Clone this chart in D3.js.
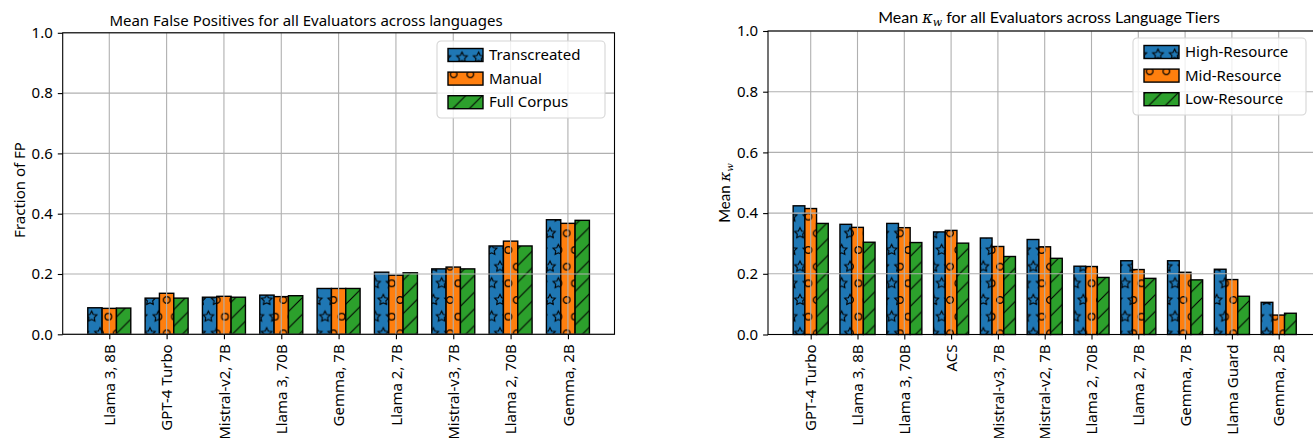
<!DOCTYPE html>
<html>
<head>
<meta charset="utf-8">
<script src="https://cdn.jsdelivr.net/npm/d3@7"></script>
<style>
  body { margin: 0; background: #fff; }
  svg { display: block; font-family: "Noto Sans", "Open Sans", sans-serif; }
  .tick text { font-family: "Noto Sans", sans-serif; font-size: 15px; fill: #000; }
</style>
</head>
<body>
<svg id="chart" width="1313" height="438"></svg>
<script>
// left panel: mean false positives
const fpModels = ["Llama 3, 8B", "GPT-4 Turbo", "Mistral-v2, 7B", "Llama 3, 70B", "Gemma, 7B",
  "Llama 2, 7B", "Mistral-v3, 7B", "Llama 2, 70B", "Gemma, 2B"];
const fpTranscreated = [0.088, 0.120, 0.123, 0.130, 0.152, 0.206, 0.217, 0.293, 0.380];
const fpManual       = [0.086, 0.136, 0.126, 0.125, 0.152, 0.196, 0.223, 0.309, 0.368];
const fpFullCorpus   = [0.087, 0.120, 0.123, 0.128, 0.152, 0.204, 0.217, 0.293, 0.378];
const fpSeries = ["Transcreated", "Manual", "Full Corpus"];

// right panel: mean kappa_w per language tier
const kwModels = ["GPT-4 Turbo", "Llama 3, 8B", "Llama 3, 70B", "ACS", "Mistral-v3, 7B",
  "Mistral-v2, 7B", "Llama 2, 70B", "Llama 2, 7B", "Gemma, 7B", "Llama Guard", "Gemma, 2B"];
const kwHigh = [0.424, 0.363, 0.366, 0.338, 0.318, 0.313, 0.225, 0.243, 0.243, 0.215, 0.106];
const kwMid  = [0.415, 0.353, 0.352, 0.343, 0.290, 0.289, 0.224, 0.214, 0.205, 0.181, 0.064];
const kwLow  = [0.366, 0.304, 0.303, 0.301, 0.257, 0.251, 0.188, 0.185, 0.180, 0.126, 0.070];
const kwSeries = ["High-Resource", "Mid-Resource", "Low-Resource"];

const yTicks = [0, 0.2, 0.4, 0.6, 0.8, 1.0];
const colors = ["#1f77b4", "#ff7f0e", "#2ca02c"];
const hatchIds = ["hStar", "hCircle", "hDiag"];

const svg = d3.select("#chart");
const defs = svg.append("defs");
const s = 100 / 6; // hatch spacing

function starPath(cx, cy, r) {
  const pts = [];
  for (let k = 0; k < 10; k++) {
    const a = -Math.PI / 2 + k * Math.PI / 5;
    const rr = k % 2 === 0 ? r : r * 0.5;
    pts.push([cx + rr * Math.cos(a), cy + rr * Math.sin(a)]);
  }
  return "M" + pts.map(p => p.join(",")).join("L") + "Z";
}
function circlePath(cx, cy, r) {
  return `M${cx - r},${cy}a${r},${r} 0 1,0 ${2 * r},0a${r},${r} 0 1,0 ${-2 * r},0Z`;
}
const shapeSpots = [[0, 0], [s, 0], [s / 2, s], [0, 2 * s], [s, 2 * s]];

const starPat = defs.append("pattern").attr("id", "hStar").attr("patternUnits", "userSpaceOnUse")
  .attr("width", s).attr("height", 2 * s);
starPat.append("rect").attr("width", s).attr("height", 2 * s).attr("fill", colors[0]);
starPat.append("path").attr("d", shapeSpots.map(p => starPath(p[0], p[1], s / 3)).join(""))
  .attr("fill", "none").attr("stroke", "#000").attr("stroke-width", 1.1);

const circPat = defs.append("pattern").attr("id", "hCircle").attr("patternUnits", "userSpaceOnUse")
  .attr("width", s).attr("height", 2 * s);
circPat.append("rect").attr("width", s).attr("height", 2 * s).attr("fill", colors[1]);
circPat.append("path").attr("d", shapeSpots.map(p => circlePath(p[0], p[1], s * 0.2)).join(""))
  .attr("fill", "none").attr("stroke", "#000").attr("stroke-width", 1.2);

const diagPat = defs.append("pattern").attr("id", "hDiag").attr("patternUnits", "userSpaceOnUse")
  .attr("width", s).attr("height", s);
diagPat.append("rect").attr("width", s).attr("height", s).attr("fill", colors[2]);
diagPat.append("path").attr("d", `M0,${s}L${s},0M-2,2L2,-2M${s - 2},${s + 2}L${s + 2},${s - 2}`)
  .attr("fill", "none").attr("stroke", "#000").attr("stroke-width", 1.1);

function drawPanel(cfg) {
  const n = cfg.categories.length;
  const lo = -0.375 - 0.05 * (n - 1 + 0.75);
  const hi = n - 1 + 0.375 + 0.05 * (n - 1 + 0.75);
  const x = d3.scaleLinear().domain([lo, hi]).range([cfg.left, cfg.right]);
  const y = d3.scaleLinear().domain([0, 1]).range([cfg.bottom, cfg.top]);
  const g = svg.append("g");

  const barW = x(0.25) - x(0);
  cfg.series.forEach((vals, k) => {
    g.append("g").selectAll("rect").data(vals).join("rect")
      .attr("x", (d, i) => x(i + (k - 1) * 0.25 - 0.125))
      .attr("y", d => y(d))
      .attr("width", barW)
      .attr("height", d => y(0) - y(d))
      .attr("fill", `url(#${hatchIds[k]})`)
      .attr("stroke", "#000")
      .attr("stroke-width", 1.4);
  });

  // grid on top of bars (matplotlib default)
  const grid = g.append("g").attr("stroke", "#b0b0b0").attr("stroke-width", 1.1);
  grid.selectAll(".gx").data(d3.range(n)).join("line")
    .attr("x1", d => x(d)).attr("x2", d => x(d)).attr("y1", cfg.top).attr("y2", cfg.bottom);
  grid.selectAll(".gy").data(yTicks).join("line")
    .attr("x1", cfg.left).attr("x2", cfg.right).attr("y1", d => y(d)).attr("y2", d => y(d));

  g.append("rect").attr("x", cfg.left).attr("y", cfg.top)
    .attr("width", cfg.right - cfg.left).attr("height", cfg.bottom - cfg.top)
    .attr("fill", "none").attr("stroke", "#000").attr("stroke-width", 1.1);

  const xAxis = g.append("g").attr("transform", `translate(0,${cfg.bottom})`)
    .call(d3.axisBottom(x).tickValues(d3.range(n)).tickFormat(i => cfg.categories[i])
      .tickSize(4.9).tickSizeOuter(0).tickPadding(5));
  xAxis.select(".domain").remove();
  xAxis.selectAll(".tick line").attr("stroke", "#000").attr("stroke-width", 1.1);
  xAxis.selectAll(".tick text")
    .attr("transform", "rotate(-90)")
    .attr("text-anchor", "end")
    .attr("x", -10).attr("y", 0).attr("dy", "0.35em");

  const yAxis = g.append("g").attr("transform", `translate(${cfg.left},0)`)
    .call(d3.axisLeft(y).tickValues(yTicks).tickFormat(d3.format(".1f"))
      .tickSize(4.9).tickSizeOuter(0).tickPadding(5));
  yAxis.select(".domain").remove();
  yAxis.selectAll(".tick line").attr("stroke", "#000").attr("stroke-width", 1.1);

  // title
  g.append("text").attr("x", cfg.titleX).attr("y", cfg.titleY)
    .attr("text-anchor", "middle").style("font-family", cfg.titleFont)
    .style("font-size", cfg.titleSize + "px").html(cfg.title);

  // y label
  g.append("text").attr("transform", `translate(${cfg.ylabelX},${cfg.ylabelY}) rotate(-90)`)
    .attr("text-anchor", "middle").style("font-family", cfg.ylabelFont)
    .style("font-size", "15px").html(cfg.ylabel);

  // legend
  const lg = g.append("g").attr("transform", `translate(${cfg.legX},${cfg.legY})`);
  lg.append("rect").attr("width", cfg.legW).attr("height", 77).attr("rx", 4)
    .attr("fill", "#fff").attr("fill-opacity", 0.8)
    .attr("stroke", "#d6d6d6").attr("stroke-width", 1.1);
  cfg.names.forEach((name, k) => {
    const cy = 14 + k * 23.6;
    lg.append("rect").attr("x", 11).attr("y", cy - 6.5).attr("width", 35).attr("height", 13)
      .attr("fill", `url(#${hatchIds[k]})`).attr("stroke", "#000").attr("stroke-width", 1.4);
    lg.append("text").attr("x", 52).attr("y", cy).attr("dy", "0.35em")
      .style("font-size", "15px").text(name);
  });
}

drawPanel({
  categories: fpModels,
  series: [fpTranscreated, fpManual, fpFullCorpus],
  names: fpSeries,
  left: 62.7, right: 614.5, top: 32.8, bottom: 334.3,
  title: "Mean False Positives for all Evaluators across languages",
  titleX: 306, titleY: 26, titleSize: 15, titleFont: "Noto Sans",
  ylabel: "Fraction of FP", ylabelX: 25, ylabelY: 190, ylabelFont: "Noto Sans",
  legX: 437, legY: 41, legW: 168
});

drawPanel({
  categories: kwModels,
  series: [kwHigh, kwMid, kwLow],
  names: kwSeries,
  left: 768, right: 1321.4, top: 31, bottom: 334.5,
  title: 'Mean <tspan font-style="italic" font-family="DejaVu Serif">κ</tspan><tspan font-style="italic" font-family="DejaVu Serif" font-size="11" dy="3">w</tspan><tspan dy="-3"> for all Evaluators across Language Tiers</tspan>',
  titleX: 1049, titleY: 23, titleSize: 16, titleFont: "Lato",
  ylabel: 'Mean <tspan font-style="italic" font-family="DejaVu Serif">κ</tspan><tspan font-style="italic" font-family="DejaVu Serif" font-size="10" dy="3">w</tspan>',
  ylabelX: 730, ylabelY: 193, ylabelFont: "Lato",
  legX: 1133, legY: 38, legW: 173
});
</script>
</body>
</html>
